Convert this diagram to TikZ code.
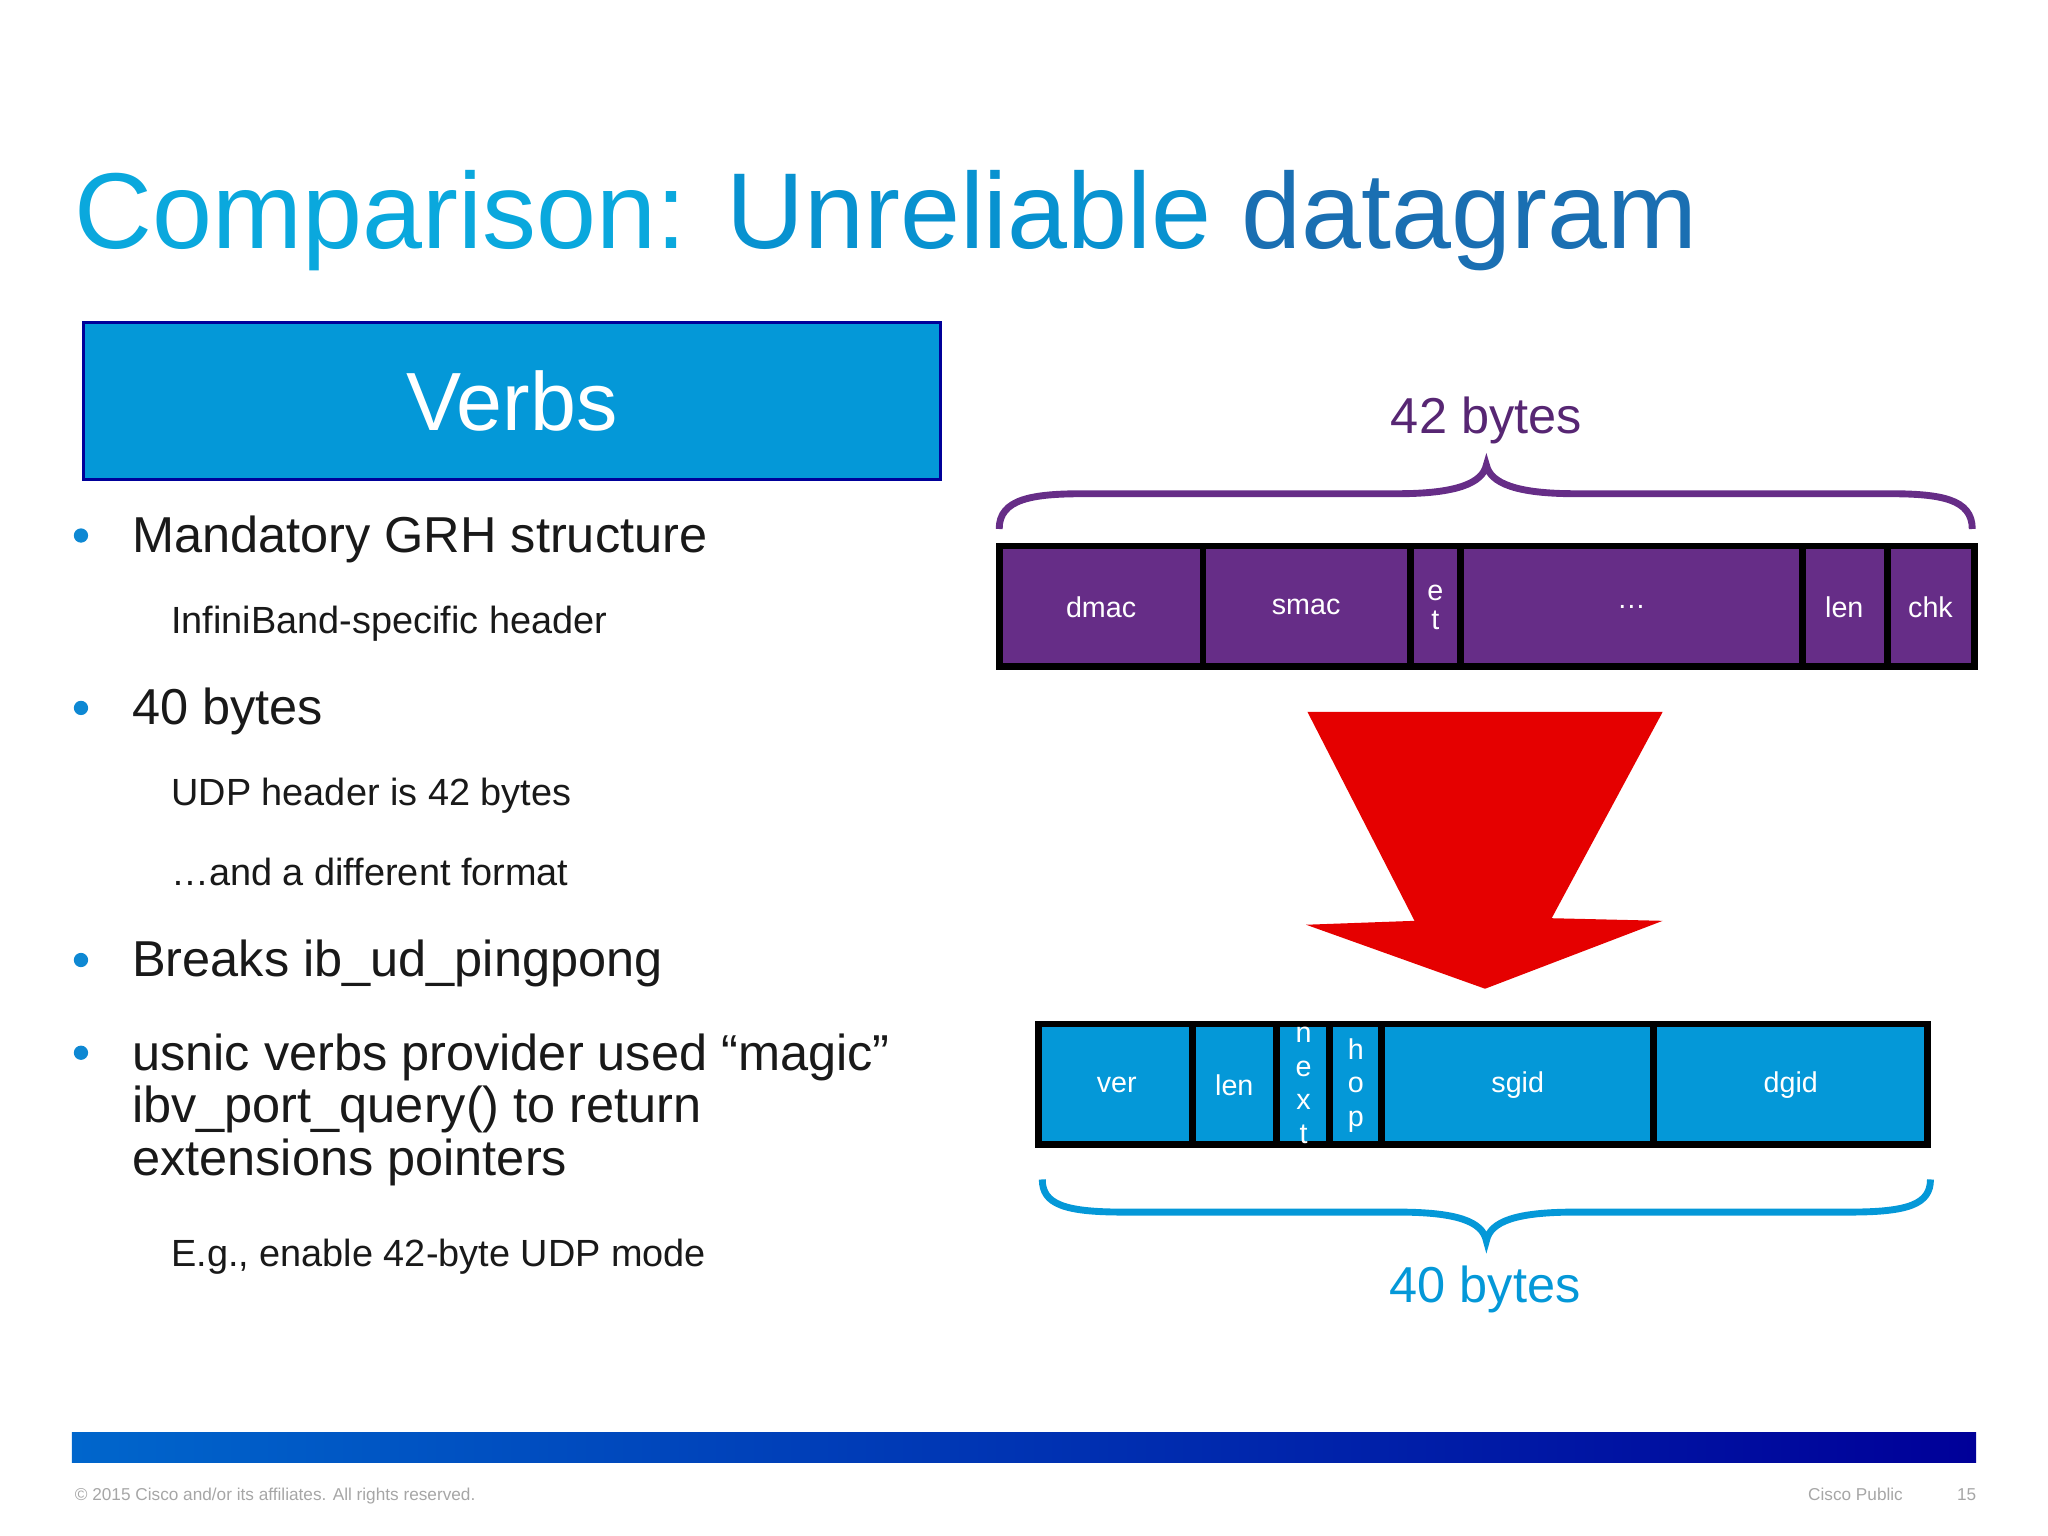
\documentclass[tikz,border=0pt]{standalone}
\usepackage{fontspec}
\setmainfont{Liberation Sans}
\begin{document}
\begin{tikzpicture}[x=0.02cm,y=-0.02cm,
  lbl/.style={text=white,font=\fontsize{12.5}{14}\selectfont},
  bul/.style={anchor=base west,font=\fontsize{22}{26}\selectfont,text=black!90,align=left},
  sub/.style={anchor=base west,font=\fontsize{16.5}{20}\selectfont,text=black!90},
  dot/.style={circle,fill=cyan!70!blue,inner sep=2.2pt}]
\useasboundingbox (0,0) rectangle (1568,1176);
\definecolor{purp}{HTML}{662D87}
\definecolor{blu}{HTML}{0498D8}
% title
\node[anchor=base west,inner sep=0,font=\fontsize{47}{50}\selectfont] (title) at (57,190)
 {\color[HTML]{0AA8DD}Comparison: \color[HTML]{0892D0}Unreliable \color[HTML]{1A6FB2}datagram};
% Verbs box
\node[draw=blue!60!black,line width=1.5pt,fill=blu,minimum width=13.12cm,minimum height=2.4cm,text=white,font=\fontsize{36}{40}\selectfont] (verbs) at (392,307) {Verbs};
% bullets
\node[dot] (d1) at (62,410) {}; \node[bul] (b1) at (95,423) {Mandatory GRH structure};
\node[sub] (s1) at (125,485) {InfiniBand-specific header};
\node[dot] (d2) at (62,542) {}; \node[bul] (b2) at (95,555) {40 bytes};
\node[sub] (s2) at (125,617) {UDP header is 42 bytes};
\node[sub] (s3) at (125,678) {\ldots and a different format};
\node[dot] (d3) at (62,735) {}; \node[bul] (b3) at (95,748) {Breaks ib\_ud\_pingpong};
\node[dot] (d4) at (62,806) {};
\node[bul,anchor=north west] (b4) at (95,785) {usnic verbs provider used “magic”\\[-3pt]ibv\_port\_query() to return\\[-3pt]extensions pointers};
\node[sub] (s4) at (125,970) {E.g., enable 42-byte UDP mode};
% top packet
\fill[purp] (765,418) rectangle (1512,510);
\foreach \x in {921,1080,1118,1380,1445} \draw[line width=3pt] (\x,418) -- (\x,510);
\draw[line width=3pt] (765,418) rectangle (1512,510);
\node[lbl] (p1) at (843,465) {dmac};
\node[lbl] (p2) at (1000,465) {smac};
\node[lbl,align=center,font=\fontsize{12.5}{13}\selectfont] (p3) at (1099,465) {e\\t};
\node[lbl] (p4) at (1249,465) {\ldots};
\node[lbl] (p5) at (1412,465) {len};
\node[lbl] (p6) at (1478,465) {chk};
% top brace
\draw[purp,line width=3pt] (765,405) .. controls (765,382) and (790,378) .. (830,378)
 -- (1070,378) .. controls (1115,378) and (1135,370) .. (1138,356)
 .. controls (1141,370) and (1161,378) .. (1206,378) -- (1446,378)
 .. controls (1486,378) and (1510,382) .. (1510,405);
\node[text=purp!85!black,font=\fontsize{22}{26}\selectfont] (t42) at (1138,322) {42 bytes};
% red arrow
\fill[red!90!black] (1001,545) -- (1273,545) -- (1188,703) -- (1273,705) -- (1137,757) -- (1000,708) -- (1083,705) -- cycle;
% bottom packet
\fill[blu] (795,784) rectangle (1476,876);
\foreach \x in {913,977,1018,1058,1266} \draw[line width=3pt] (\x,784) -- (\x,876);
\draw[line width=3pt] (795,784) rectangle (1476,876);
\node[lbl] (q1) at (855,831) {ver};
\node[lbl] (q2) at (945,831) {len};
\node[lbl,align=center,font=\fontsize{12.5}{14.7}\selectfont] (q3) at (998,831) {n\\e\\x\\t};
\node[lbl,align=center,font=\fontsize{12.5}{14.7}\selectfont] (q4) at (1038,831) {h\\o\\p};
\node[lbl] (q5) at (1162,831) {sgid};
\node[lbl] (q6) at (1371,831) {dgid};
% bottom brace
\draw[blu,line width=3pt] (798,903) .. controls (798,922) and (815,928) .. (860,928)
 -- (1070,928) .. controls (1115,928) and (1135,935) .. (1138,950)
 .. controls (1141,935) and (1161,928) .. (1206,928) -- (1416,928)
 .. controls (1461,928) and (1478,922) .. (1478,903);
\node[text=blu,font=\fontsize{22}{26}\selectfont] (t40) at (1137,987) {40 bytes};
% footer
\shade[left color=blue!50!cyan!80!black,right color=blue!60!black] (55,1097) rectangle (1513,1120);
\node[anchor=base west,text=gray!70,font=\fontsize{7.5}{9}\selectfont,inner sep=0] (f1) at (57,1149) {© 2015 Cisco and/or its affiliates. All rights reserved.};
\node[anchor=base west,text=gray!70,font=\fontsize{7.5}{9}\selectfont,inner sep=0] (f2) at (1384,1149) {Cisco Public};
\node[anchor=base west,text=gray!70,font=\fontsize{7.5}{9}\selectfont,inner sep=0] (f3) at (1498,1149) {15};
\end{tikzpicture}
\end{document}
